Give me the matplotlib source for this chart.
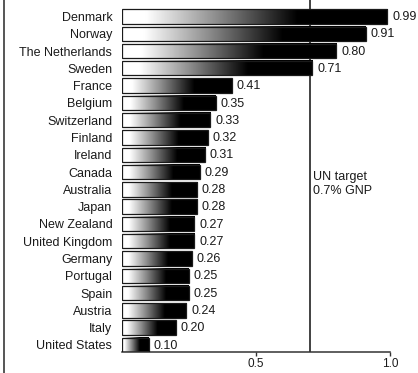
import numpy as np
import matplotlib
matplotlib.use('Agg')
import matplotlib.pyplot as plt
from matplotlib.colors import LinearSegmentedColormap
from matplotlib.lines import Line2D

countries = ["Denmark", "Norway", "The Netherlands", "Sweden", "France", "Belgium",
             "Switzerland", "Finland", "Ireland", "Canada", "Australia", "Japan",
             "New Zealand", "United Kingdom", "Germany", "Portugal", "Spain",
             "Austria", "Italy", "United States"]
aid = [0.99, 0.91, 0.80, 0.71, 0.41, 0.35, 0.33, 0.32, 0.31, 0.29, 0.28, 0.28,
       0.27, 0.27, 0.26, 0.25, 0.25, 0.24, 0.20, 0.10]
target = 0.7
xticks = [0.5, 1.0]
xticklabels = ["0.5", "1.0"]

INK = "#1a1a1a"
plt.rcParams['font.family'] = ['Liberation Sans', 'DejaVu Sans']

# white -> black ramp used inside every bar
ramp = LinearSegmentedColormap.from_list(
    "ramp", [(0.0, "white"), (0.09, "white"), (0.35, "#8f8f8f"),
             (0.66, "black"), (1.0, "black")])
grad = np.linspace(0, 1, 256).reshape(1, -1)

fig = plt.figure(figsize=(4.18, 3.73), dpi=100, facecolor="white")
ax = fig.add_axes([0.292, 0.056, 0.641, 0.944])

n = len(countries)
ypos = np.arange(n)[::-1]
h = 0.83
for y, v in zip(ypos, aid):
    ax.imshow(grad, cmap=ramp, aspect='auto', interpolation='bilinear',
              extent=(0, v, y - h / 2, y + h / 2), zorder=2)
ax.barh(ypos, aid, height=h, facecolor='none', edgecolor=INK, lw=0.9, zorder=3)

for y, v in zip(ypos, aid):
    ax.annotate(f"{v:.2f}", (v, y), xytext=(3.5, -0.5), textcoords='offset points',
                ha='left', va='center', fontsize=9, color=INK)

ax.axvline(target, color="#333333", lw=1.3, zorder=1)
ax.text(target + 0.013, 9.3, "UN target\n0.7% GNP", ha='left', va='center',
        fontsize=9, color=INK, linespacing=1.25)

ax.set_xlim(0, 1.0)
ax.set_ylim(-h / 2, 19.95)
ax.set_yticks(ypos)
ax.set_yticklabels(countries, fontsize=9, color=INK)
ax.tick_params(axis='y', length=0, pad=7)
ax.set_xticks(xticks)
ax.set_xticklabels(xticklabels, fontsize=8.5, color=INK)
ax.tick_params(axis='x', direction='out', length=3, width=1, color="#333333", pad=1)

for s in ['top', 'right', 'left']:
    ax.spines[s].set_visible(False)
ax.spines['bottom'].set_color("#333333")
ax.spines['bottom'].set_linewidth(1.1)

fig.add_artist(Line2D([0.01, 0.01], [0, 1], transform=fig.transFigure,
                      color="#555555", lw=1.4))

fig.savefig("out.png", dpi=100, facecolor="white")
